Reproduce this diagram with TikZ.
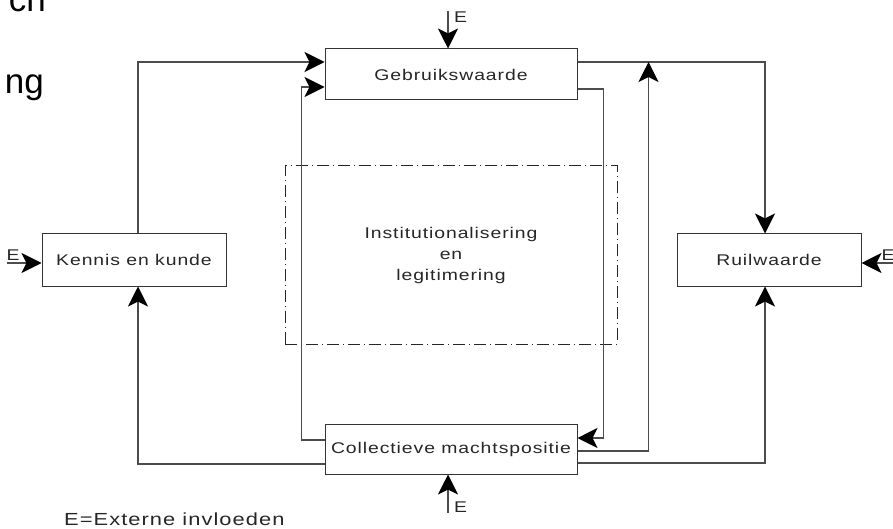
\documentclass[tikz,border=0pt]{standalone}
\usepackage{fontspec}
\setmainfont{Liberation Sans}
\newfontfamily\wijdfont{Liberation Sans}[LetterSpace=6, FakeStretch=1.25]
\usepackage{tikz}
\usetikzlibrary{arrows.meta,positioning}

\begin{document}
\begin{tikzpicture}[
  x=1pt, y=1pt,
  node distance=10pt and 10pt,
  blok/.style={draw=black!80, line width=1pt, align=center, inner sep=0pt, text=black!85, font={\wijdfont\fontsize{15.5}{21}\selectfont}},
  instbox/.style={draw=black!85, line width=1pt, dash pattern=on 12pt off 4pt on 1pt off 4pt, align=center, inner sep=0pt, minimum width=332pt, minimum height=178pt, text=black!85, font={\wijdfont\fontsize{15.5}{21}\selectfont}},
  elabel/.style={inner sep=0pt, text=black!85, font={\wijdfont\fontsize{15.5}{18}\selectfont}},
  verb/.style={draw=black!70, line width=1.1pt, -{Stealth[length=20pt, width=20pt, inset=5pt, black]}}
]
\clip (0,0) rectangle (893,528);
\node[anchor=base east, inner sep=0pt, font=\fontsize{35}{40}\selectfont] (restch) at (46,516) {ch};
\node[anchor=base east, inner sep=0pt, font=\fontsize{35}{40}\selectfont] (restng) at (44,434) {ng};
\node[blok, minimum width=252pt, minimum height=51pt] (gebr) at (451,453.5) {Gebruikswaarde};
\node[blok, minimum width=184pt, minimum height=52pt, below left=133pt and 98pt of gebr] (kennis) {Kennis en kunde};
\node[blok, minimum width=184pt, minimum height=52pt, below right=133pt and 99pt of gebr] (ruil) {Ruilwaarde};
\node[blok, minimum width=252pt, minimum height=50pt, below=323pt of gebr] (coll) {Collectieve machtspositie};
\node[instbox, below=65pt of gebr] (inst) {Institutionalisering\\en\\legitimering};

\draw[verb] ([xshift=4pt]kennis.north) |- ([yshift=12.5pt]gebr.west);
\draw[verb] ([yshift=9pt]coll.west) -- ++(-23pt,0) |- ([yshift=-12.5pt]gebr.west);
\draw[verb] ([yshift=-15pt]coll.west) -| ([xshift=4pt]kennis.south);
\draw[verb] ([yshift=12.5pt]gebr.east) -| ([xshift=-4pt]ruil.north);
\draw[verb] ([yshift=-14.5pt]gebr.east) -- ++(26pt,0) |- ([yshift=11pt]coll.east);
\coordinate (knik) at ([xshift=71pt,yshift=12.5pt]gebr.east);
\draw[verb] ([yshift=-2pt]coll.east) -| (knik);
\draw[verb] ([yshift=-14pt]coll.east) -| ([xshift=-4pt]ruil.south);

\coordinate (eboven) at ([xshift=-3pt,yshift=37pt]gebr.north);
\coordinate (eonder) at ([xshift=-3pt,yshift=-38pt]coll.south);
\coordinate (elinks) at ([xshift=-35pt,yshift=-3pt]kennis.west);
\coordinate (erechts) at ([xshift=35pt,yshift=-3pt]ruil.east);
\draw[verb] (eboven) -- ([xshift=-3pt]gebr.north);
\draw[verb] (eonder) -- ([xshift=-3pt]coll.south);
\draw[verb] (elinks) -- ([yshift=-3pt]kennis.west);
\draw[verb] (erechts) -- ([yshift=-3pt]ruil.east);
\node[elabel, anchor=north west] (lboven) at ([xshift=6pt]eboven) {E};
\node[elabel, anchor=south west] (londer) at ([xshift=6pt]eonder) {E};
\node[elabel, anchor=south west] (llinks) at ([yshift=2pt]elinks) {E};
\node[elabel, anchor=south west] (lrechts) at ([xshift=-15pt,yshift=2pt]erechts) {E};

\node[anchor=base west, inner sep=0pt, text=black!85, font={\wijdfont\fontsize{17.5}{20}\selectfont}] (legenda) at (64,3) {E=Externe invloeden};
\end{tikzpicture}
\end{document}
